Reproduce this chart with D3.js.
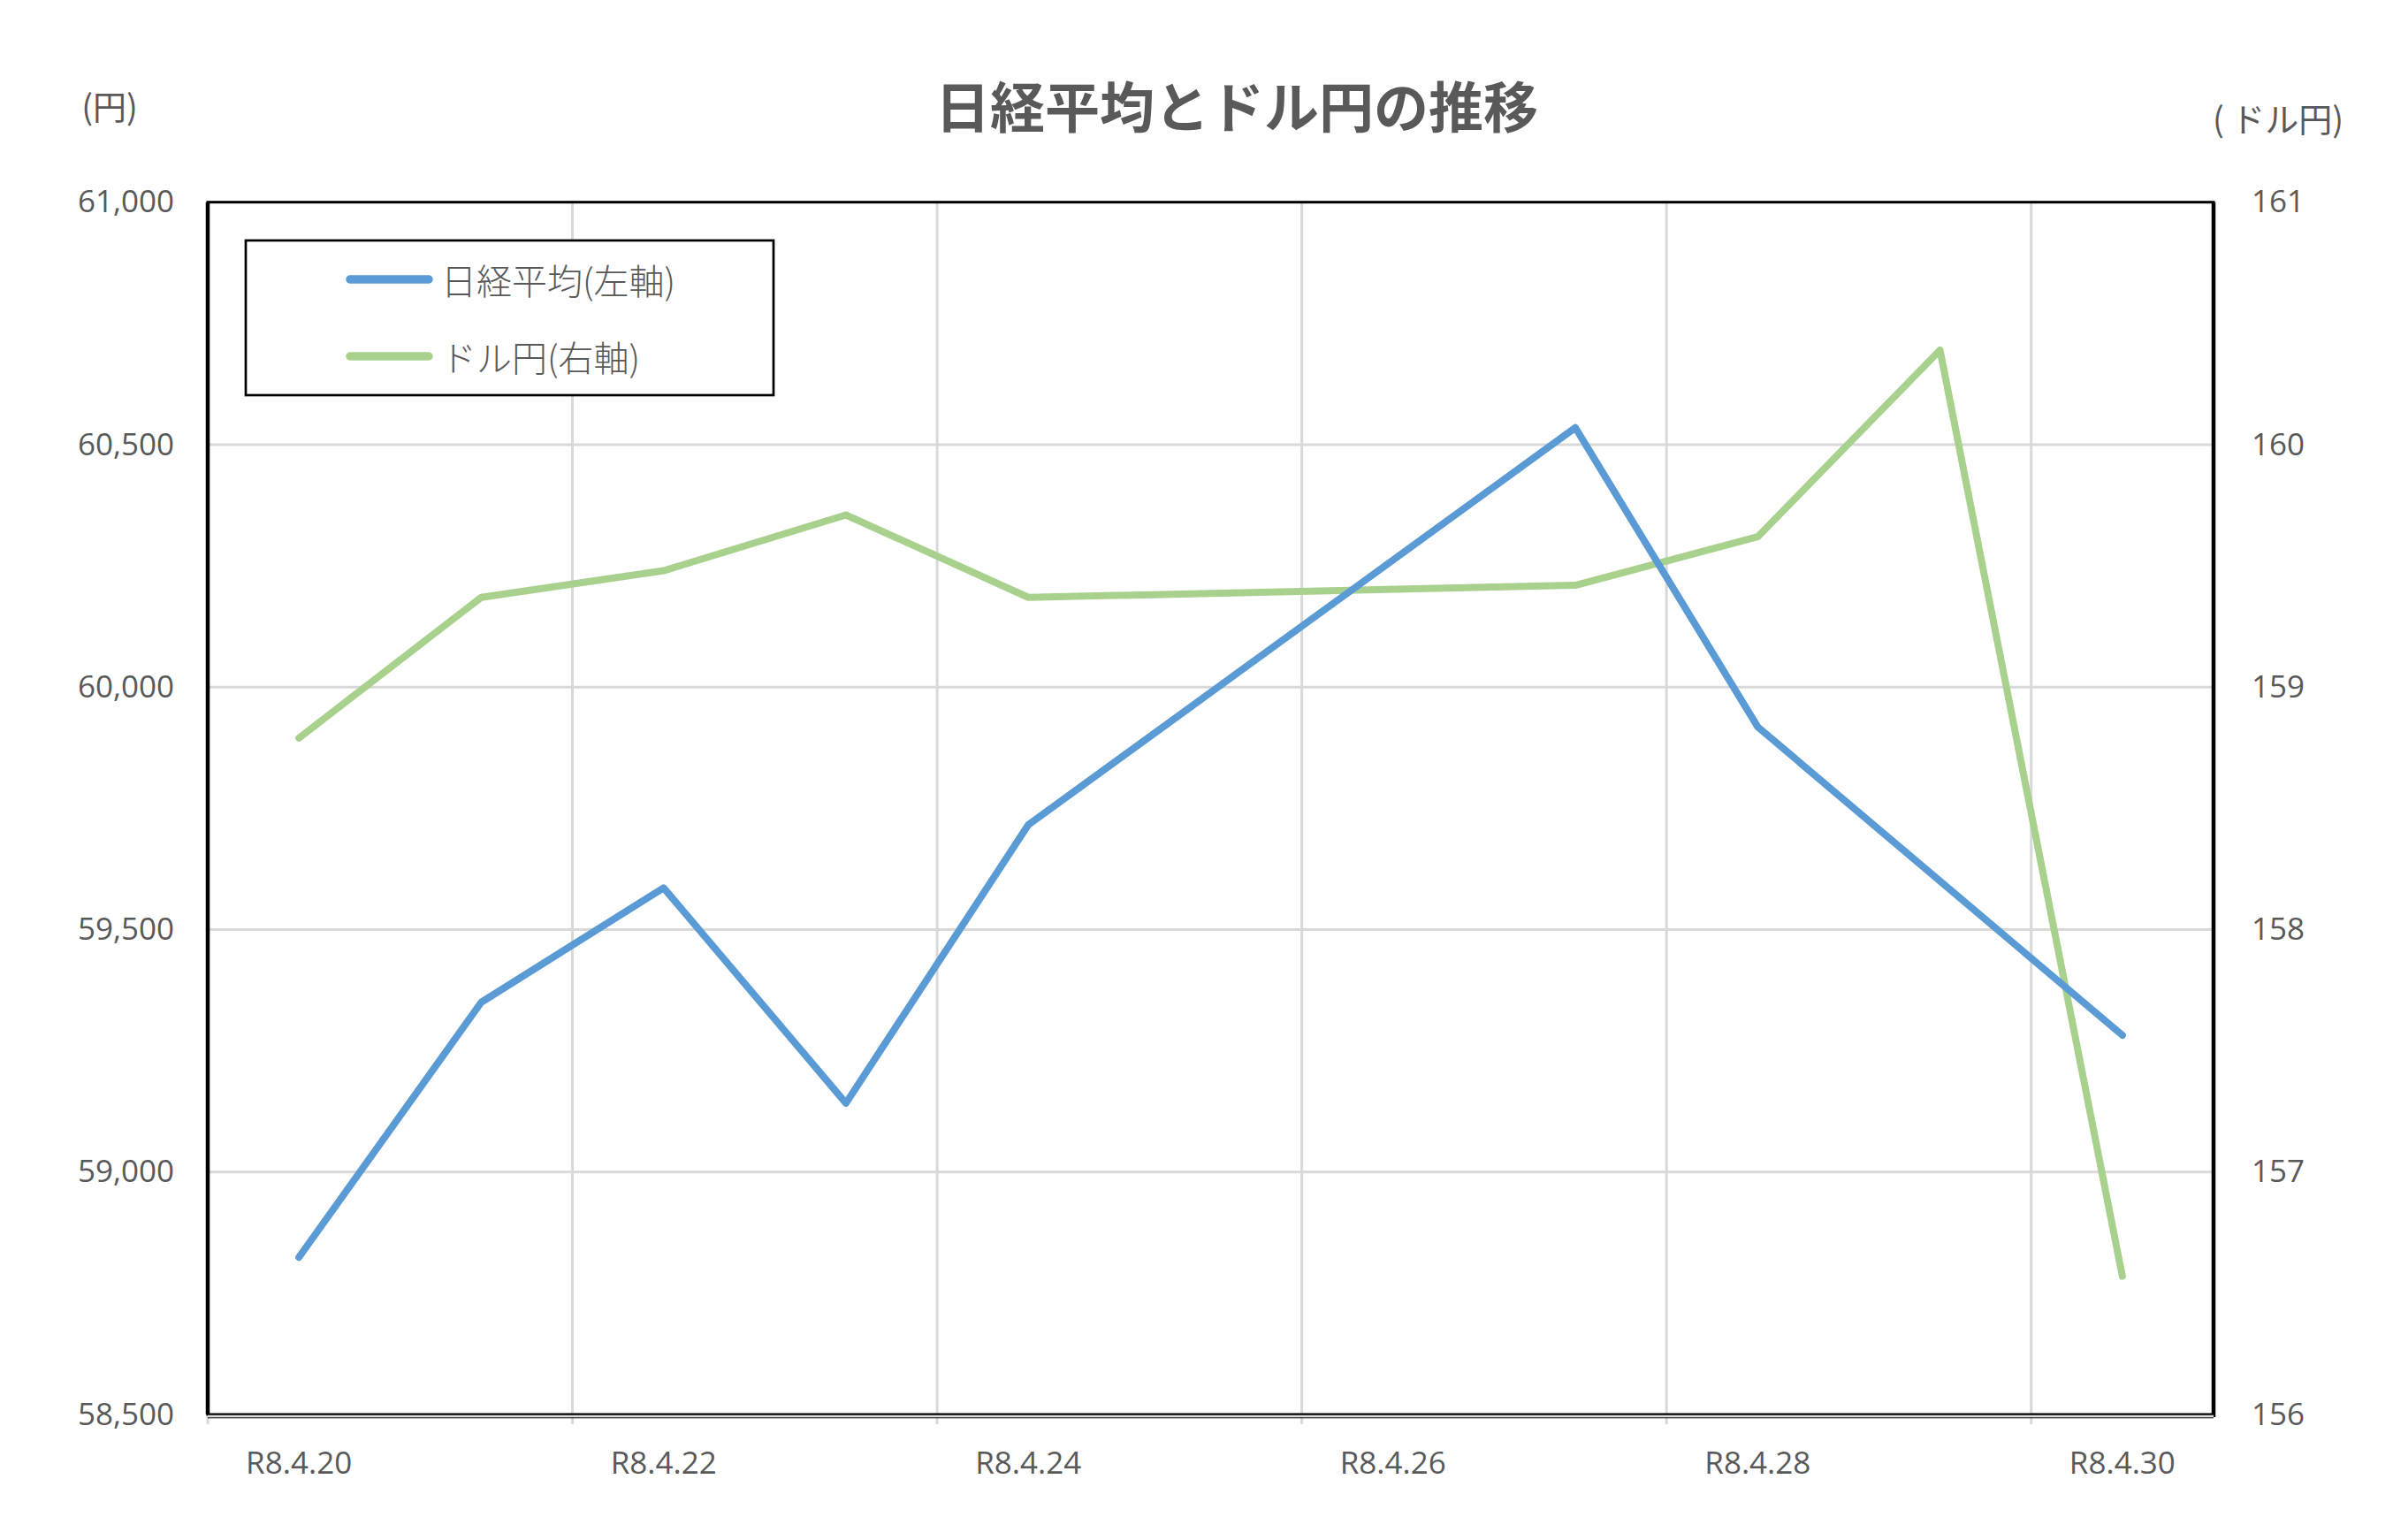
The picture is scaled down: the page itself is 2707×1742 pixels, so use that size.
<!DOCTYPE html>
<html>
<head>
<meta charset="utf-8">
<script src="https://cdn.jsdelivr.net/npm/d3@7"></script>
<style>
  body { margin: 0; background: #fff; }
  .tick text { font-family: "Open Sans", sans-serif; font-size: 35px; fill: #595959; }
  .jp { font-family: "Noto Sans CJK JP", sans-serif; fill: #595959; }
</style>
</head>
<body>
<div class="chart"></div>
<script>
var days = ['R8.4.20', 'R8.4.21', 'R8.4.22', 'R8.4.23', 'R8.4.24', 'R8.4.25',
            'R8.4.26', 'R8.4.27', 'R8.4.28', 'R8.4.29', 'R8.4.30'];

// 日経平均 (no trading on 25, 26, 29)
var nikkeiDays = ['R8.4.20', 'R8.4.21', 'R8.4.22', 'R8.4.23', 'R8.4.24',
                  'R8.4.27', 'R8.4.28', 'R8.4.30'];
var nikkei = [58824, 59350, 59586, 59142, 59716, 60535, 59918, 59282];

// ドル円
var usdjpyDays = ['R8.4.20', 'R8.4.21', 'R8.4.22', 'R8.4.23', 'R8.4.24',
                  'R8.4.27', 'R8.4.28', 'R8.4.29', 'R8.4.30'];
var usdjpy = [158.79, 159.37, 159.48, 159.71, 159.37, 159.42, 159.62, 160.39, 156.57];

var leftTicks = [58500, 59000, 59500, 60000, 60500, 61000];
var rightTicks = [156, 157, 158, 159, 160, 161];
var dayLabels = ['R8.4.20', 'R8.4.22', 'R8.4.24', 'R8.4.26', 'R8.4.28', 'R8.4.30'];

var seriesNames = ['日経平均(左軸)', 'ドル円(右軸)'];
var colors = ['#5b9bd5', '#a9d18e'];

var W = 2707, H = 1742;
var plot = {left: 235, right: 2504, top: 228.7, bottom: 1600};

var svg = d3.select('div.chart').append('svg')
    .attr('width', W)
    .attr('height', H)
    .style('display', 'block');

svg.append('rect').attr('width', W).attr('height', H).attr('fill', '#fff');

var xScale = d3.scaleBand()
    .domain(days)
    .range([plot.left, plot.right]);
var xMid = d => xScale(d) + xScale.bandwidth() / 2;

var yLeft = d3.scaleLinear()
    .domain([58500, 61000])
    .range([plot.bottom, plot.top]);
var yRight = d3.scaleLinear()
    .domain([156, 161])
    .range([plot.bottom, plot.top]);

// gridlines
svg.append('g')
  .selectAll('line')
  .data(leftTicks.slice(1, -1)).enter().append('line')
    .attr('x1', plot.left).attr('x2', plot.right)
    .attr('y1', d => yLeft(d)).attr('y2', d => yLeft(d))
    .attr('stroke', '#d9d9d9')
    .attr('stroke-width', 3);

svg.append('g')
  .selectAll('line')
  .data(dayLabels).enter().append('line')
    .attr('x1', d => xScale(d)).attr('x2', d => xScale(d))
    .attr('y1', plot.top).attr('y2', plot.bottom + 11)
    .attr('stroke', '#d9d9d9')
    .attr('stroke-width', 3);

// plot frame
svg.append('rect')
    .attr('x', plot.left).attr('y', plot.top)
    .attr('width', plot.right - plot.left)
    .attr('height', plot.bottom - plot.top)
    .attr('fill', 'none')
    .attr('stroke', '#000')
    .attr('stroke-width', 3);
svg.append('line')
    .attr('x1', plot.left).attr('x2', plot.left)
    .attr('y1', plot.top).attr('y2', plot.bottom)
    .attr('stroke', '#000').attr('stroke-width', 4.5);
svg.append('line')
    .attr('x1', plot.right).attr('x2', plot.right)
    .attr('y1', plot.top).attr('y2', plot.bottom + 3)
    .attr('stroke', '#000').attr('stroke-width', 4.5);
// horizontal axis line under the frame
svg.append('line')
    .attr('x1', plot.left).attr('x2', plot.right)
    .attr('y1', plot.bottom + 2).attr('y2', plot.bottom + 2)
    .attr('stroke', '#d9d9d9').attr('stroke-width', 2.5);
svg.append('line')
    .attr('x1', plot.left).attr('x2', plot.right)
    .attr('y1', plot.bottom + 3.8).attr('y2', plot.bottom + 3.8)
    .attr('stroke', '#000').attr('stroke-width', 1);

// axes
svg.append('g')
    .attr('transform', 'translate(' + plot.left + ',0)')
    .call(d3.axisLeft(yLeft)
          .tickValues(leftTicks)
          .tickFormat(d3.format(','))
          .tickSize(0)
          .tickPadding(38))
    .call(g => g.select('.domain').remove());

svg.append('g')
    .attr('transform', 'translate(' + plot.right + ',0)')
    .call(d3.axisRight(yRight)
          .tickValues(rightTicks)
          .tickFormat(d3.format('d'))
          .tickSize(0)
          .tickPadding(43))
    .call(g => g.select('.domain').remove());

svg.append('g')
    .attr('transform', 'translate(0,' + plot.bottom + ')')
    .call(d3.axisBottom(xScale)
          .tickValues(dayLabels)
          .tickSize(0)
          .tickPadding(42))
    .call(g => g.select('.domain').remove());

// lines
var lineL = d3.line()
    .x((d, i) => xMid(nikkeiDays[i]))
    .y(d => yLeft(d));
var lineR = d3.line()
    .x((d, i) => xMid(usdjpyDays[i]))
    .y(d => yRight(d));

svg.append('path')
    .datum(usdjpy)
    .attr('d', lineR)
    .attr('fill', 'none')
    .attr('stroke', colors[1])
    .attr('stroke-width', 8)
    .attr('stroke-linejoin', 'round')
    .attr('stroke-linecap', 'round');

svg.append('path')
    .datum(nikkei)
    .attr('d', lineL)
    .attr('fill', 'none')
    .attr('stroke', colors[0])
    .attr('stroke-width', 8)
    .attr('stroke-linejoin', 'round')
    .attr('stroke-linecap', 'round');

// titles
svg.append('text')
    .attr('class', 'jp')
    .attr('x', 1399).attr('y', 145)
    .attr('text-anchor', 'middle')
    .attr('font-size', 62)
    .attr('font-weight', 'bold')
    .text('日経平均とドル円の推移');

svg.append('text')
    .attr('class', 'jp')
    .attr('x', 124).attr('y', 135)
    .attr('text-anchor', 'middle')
    .attr('font-size', 38)
    .text('(円)');

svg.append('text')
    .attr('class', 'jp')
    .attr('x', 2577).attr('y', 149)
    .attr('text-anchor', 'middle')
    .attr('font-size', 38)
    .text('( ドル円)');

// legend
var legend = svg.append('g');
legend.append('rect')
    .attr('x', 278).attr('y', 272)
    .attr('width', 597).attr('height', 175)
    .attr('fill', '#fff')
    .attr('stroke', '#000')
    .attr('stroke-width', 2.7);

var items = legend.selectAll('g.item')
    .data(seriesNames).enter().append('g')
    .attr('transform', (d, i) => 'translate(0,' + (316 + i * 87) + ')');
items.append('line')
    .attr('x1', 396).attr('x2', 485)
    .attr('stroke', (d, i) => colors[i])
    .attr('stroke-width', 9.5)
    .attr('stroke-linecap', 'round');
items.append('text')
    .attr('class', 'jp')
    .attr('x', 499)
    .attr('dominant-baseline', 'central')
    .attr('font-size', 40)
    .attr('font-weight', 300)
    .text(d => d);
</script>
</body>
</html>
